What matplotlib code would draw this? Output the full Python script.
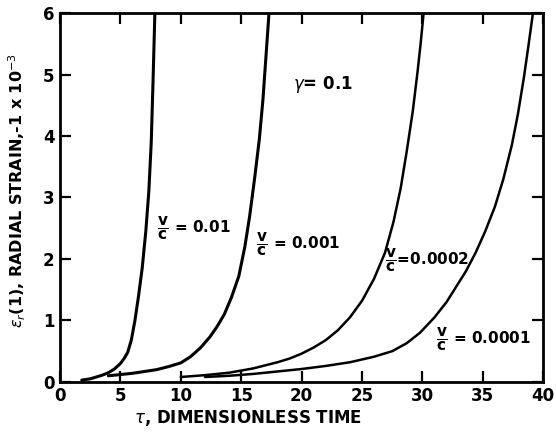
import matplotlib
matplotlib.use("Agg")
import matplotlib.pyplot as plt

# Data (tau, radial strain x 1e-3)
tau_001 = [1.8, 2.5, 3.0, 3.5, 4.0, 4.5, 5.0, 5.3, 5.6, 5.9, 6.2, 6.5, 6.8, 7.1, 7.35, 7.55, 7.7, 7.85]
eps_001 = [0.03, 0.05, 0.08, 0.11, 0.15, 0.21, 0.30, 0.38, 0.48, 0.68, 1.0, 1.4, 1.85, 2.45, 3.1, 3.9, 4.9, 6.0]

tau_0001 = [4.0, 5.0, 6.0, 7.0, 8.0, 9.0, 10.0, 10.8, 11.6, 12.4, 13.0, 13.6, 14.2, 14.8, 15.3,
            15.7, 16.1, 16.5, 16.8, 17.05, 17.3]
eps_0001 = [0.10, 0.12, 0.14, 0.17, 0.20, 0.25, 0.31, 0.41, 0.55, 0.73, 0.90, 1.10, 1.38, 1.72, 2.2,
            2.7, 3.3, 3.95, 4.6, 5.3, 6.0]

tau_00002 = [10.0, 12.0, 14.0, 16.0, 18.0, 19.0, 20.0, 21.0, 22.0, 23.0, 24.0, 25.0, 26.0, 26.9,
             27.6, 28.2, 28.7, 29.2, 29.6, 29.85, 30.1]
eps_00002 = [0.08, 0.11, 0.15, 0.22, 0.32, 0.38, 0.46, 0.56, 0.68, 0.84, 1.05, 1.32, 1.68, 2.1,
             2.6, 3.15, 3.75, 4.4, 5.05, 5.5, 6.0]

tau_00001 = [12.0, 14.0, 16.0, 18.0, 20.0, 22.0, 24.0, 26.0, 27.5, 28.7, 29.8, 31.0, 32.0, 32.8,
             33.6, 34.4, 35.2, 36.0, 36.7, 37.4, 37.9, 38.4, 38.8, 39.15]
eps_00001 = [0.08, 0.10, 0.13, 0.17, 0.21, 0.26, 0.32, 0.41, 0.50, 0.63, 0.80, 1.05, 1.30, 1.55,
             1.80, 2.10, 2.45, 2.85, 3.30, 3.85, 4.35, 4.95, 5.50, 6.0]

x_ticks = [0, 5, 10, 15, 20, 25, 30, 35, 40]
y_ticks = [0, 1, 2, 3, 4, 5, 6]

plt.rcParams['font.family'] = ['DejaVu Sans']
plt.rcParams['mathtext.fontset'] = 'dejavusans'

fig = plt.figure(figsize=(5.56, 4.34), dpi=100)
ax = fig.add_axes([0.108, 0.120, 0.869, 0.850])

kw = dict(color='black', solid_capstyle='round', solid_joinstyle='round')
ax.plot(tau_001, eps_001, lw=2.2, **kw)
ax.plot(tau_0001, eps_0001, lw=2.2, **kw)
ax.plot(tau_00002, eps_00002, lw=1.8, **kw)
ax.plot(tau_00001, eps_00001, lw=1.8, **kw)

ax.set_xlim(0, 40)
ax.set_ylim(0, 6)
ax.set_xticks(x_ticks)
ax.set_yticks(y_ticks)
ax.set_xticklabels([str(t) for t in x_ticks], fontsize=12, fontweight='bold')
ax.set_yticklabels([str(t) for t in y_ticks], fontsize=12, fontweight='bold')
ax.tick_params(direction='in', length=8, width=1.6, top=True, right=True, pad=4)
for s in ax.spines.values():
    s.set_linewidth(2.0)

ax.set_xlabel(r'$\tau$, DIMENSIONLESS TIME', fontsize=12, fontweight='bold', labelpad=3)
ax.xaxis.set_label_coords(0.39, -0.07)
ax.set_ylabel(r'$\epsilon_r$(1), RADIAL STRAIN,-1 x 10$^{-3}$', fontsize=11.5, fontweight='bold', labelpad=4)
ax.yaxis.set_label_coords(-0.066, 0.52)

ax.text(21.8, 4.83, r'$\gamma$= 0.1', fontsize=12, fontweight='bold', va='center', ha='center')
frac = r'$\dfrac{\mathbf{v}}{\mathbf{c}}$'
ax.text(8.0, 2.5, frac + ' = 0.01', fontsize=11, fontweight='bold', va='center', ha='left')
ax.text(16.2, 2.23, frac + ' = 0.001', fontsize=11, fontweight='bold', va='center', ha='left')
ax.text(26.9, 1.97, frac + '=0.0002', fontsize=11, fontweight='bold', va='center', ha='left')
ax.text(31.1, 0.68, frac + ' = 0.0001', fontsize=11, fontweight='bold', va='center', ha='left')

fig.savefig('out.png', dpi=100)
